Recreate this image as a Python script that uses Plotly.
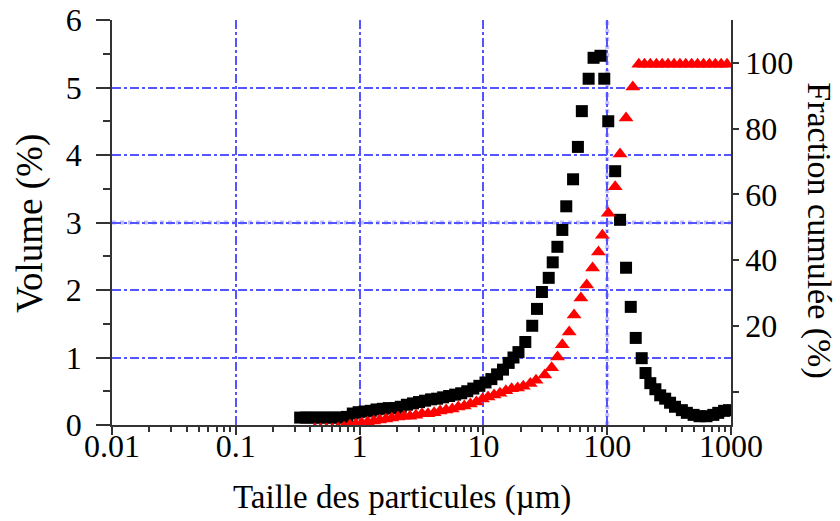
import plotly.graph_objects as go

# Particle size distribution: volume fraction per size class (left axis)
size_vol = [0.331, 0.369, 0.411, 0.458, 0.511, 0.570, 0.636, 0.708, 0.790, 0.881,
            0.982, 1.10, 1.23, 1.37, 1.54, 1.72, 1.93, 2.15, 2.41, 2.70,
            3.02, 3.38, 3.78, 4.23, 4.73, 5.29, 5.92, 6.62, 7.41, 8.29,
            9.28, 10.4, 11.6, 12.9, 14.4, 16.0, 17.5, 19.2, 21.8, 24.8,
            27.1, 29.7, 33.7, 36.3, 39.6, 43.4, 46.7, 53.0, 58.0, 62.4,
            70.8, 77.6, 88.2, 94.7, 102, 116, 127, 142, 155, 170,
            190, 204, 223, 245, 268, 294, 322, 353, 401, 440,
            499, 557, 634, 720, 789, 880, 964]
volume = [0.11, 0.11, 0.11, 0.11, 0.11, 0.11, 0.11, 0.11, 0.12, 0.17,
          0.19, 0.20, 0.21, 0.23, 0.24, 0.25, 0.25, 0.27, 0.30, 0.32,
          0.34, 0.36, 0.38, 0.39, 0.41, 0.43, 0.45, 0.47, 0.50, 0.54,
          0.58, 0.63, 0.68, 0.75, 0.82, 0.92, 1.00, 1.08, 1.23, 1.47,
          1.72, 1.97, 2.18, 2.41, 2.64, 2.89, 3.24, 3.64, 4.12, 4.65,
          5.13, 5.44, 5.47, 5.13, 4.50, 3.76, 3.04, 2.33, 1.75, 1.29,
          0.99, 0.77, 0.62, 0.53, 0.44, 0.39, 0.33, 0.27, 0.22, 0.18,
          0.15, 0.13, 0.13, 0.15, 0.18, 0.21, 0.22]

# Cumulative fraction (right axis)
size_cum = [0.435, 0.484, 0.540, 0.602, 0.671, 0.748, 0.834, 0.931, 1.04, 1.16,
            1.30, 1.45, 1.63, 1.82, 2.04, 2.28, 2.55, 2.85, 3.19, 3.57,
            4.00, 4.47, 5.00, 5.60, 6.26, 7.01, 7.84, 8.77, 9.82, 10.9,
            12.2, 13.6, 15.2, 16.9, 18.9, 21.0, 23.9, 26.6, 31.3, 35.6,
            39.7, 43.4, 49.3, 54.0, 61.3, 68.3, 76.2, 85.0, 91.4, 102,
            116, 127, 142, 161, 180, 200, 223, 250, 278, 310,
            347, 387, 431, 481, 537, 600, 669, 747, 833, 929]
cumul = [-11.4, -11.4, -11.4, -11.4, -11.1, -10.8, -10.2, -9.9, -9.6, -9.3,
         -9.0, -8.7, -8.4, -8.1, -7.8, -7.5, -7.5, -7.2, -6.8, -6.8,
         -6.5, -5.9, -5.6, -5.3, -4.7, -4.4, -3.8, -3.2, -2.3, -1.7,
         -1.1, -0.5, 0.2, 0.8, 1.1, 1.6, 2.4, 3.4, 5.0, 7.2,
         10.5, 14.2, 18.1, 23.3, 28.5, 32.4, 37.6, 42.5, 47.6, 54.3,
         62.3, 72.3, 83.3, 92.7, 99.6, 99.6, 99.6, 99.6, 99.6, 99.6,
         99.6, 99.6, 99.6, 99.6, 99.6, 99.6, 99.6, 99.6, 99.6, 99.6]

x_ticks = [0.01, 0.1, 1, 10, 100, 1000]
x_ticktext = ["0.01", "0.1", "1", "10", "100", "1000"]
y_ticks = [0, 1, 2, 3, 4, 5, 6]
y2_ticks = [0, 20, 40, 60, 80, 100]
y2_ticktext = ["", "20", "40", "60", "80", "100"]

FONT = "'Liberation Serif', 'DejaVu Serif', 'Times New Roman', Times, serif"
GRID = "#5555ff"
GRID_WIDE = "rgba(120,120,255,0.45)"
AXIS = "#333333"

fig = go.Figure()
fig.add_trace(go.Scatter(
    x=size_cum, y=cumul, yaxis="y2", mode="markers",
    marker=dict(symbol="triangle-up", size=13, color="#ff0000", line=dict(width=0)),
    showlegend=False,
))
fig.add_trace(go.Scatter(
    x=size_vol, y=volume, mode="markers",
    marker=dict(symbol="square", size=12, color="#000000", line=dict(width=0)),
    showlegend=False,
))

fig.update_layout(
    width=840, height=521,
    margin=dict(l=112, r=109, t=20, b=96),
    paper_bgcolor="white", plot_bgcolor="white",
    font=dict(family=FONT, size=32, color="black"),
    xaxis=dict(
        type="log", range=[-2, 3], automargin=False,
        tickvals=x_ticks, ticktext=x_ticktext,
        ticks="outside", ticklen=8, tickwidth=1.5, tickcolor=AXIS,
        ticklabelstandoff=-16,
        showline=True, linecolor=AXIS, linewidth=1.5,
        showgrid=True, gridcolor=GRID, gridwidth=1.5, griddash="dashdot",
        zeroline=False,
        minor=dict(ticks="outside", ticklen=5, tickcolor=AXIS, dtick="D1", showgrid=False),
        tickfont=dict(family=FONT, size=32),
    ),
    yaxis=dict(
        range=[0, 6], tickvals=y_ticks, automargin=False,
        ticks="outside", ticklen=14, tickwidth=1.5, tickcolor=AXIS,
        ticklabelstandoff=8,
        showline=True, linecolor=AXIS, linewidth=1.5,
        showgrid=True, gridcolor=GRID, gridwidth=1.5, griddash="dashdot",
        zeroline=False,
        minor=dict(ticks="outside", ticklen=7, tickcolor=AXIS, dtick=0.5, showgrid=False),
        tickfont=dict(family=FONT, size=32),
    ),
    yaxis2=dict(
        overlaying="y", side="right", range=[-10.2, 113.1], automargin=False,
        tickvals=y2_ticks, ticktext=y2_ticktext,
        ticks="outside", ticklen=6, tickwidth=1.5, tickcolor=AXIS,
        showline=True, linecolor=AXIS, linewidth=1.5,
        showgrid=False, zeroline=False,
        tickfont=dict(family=FONT, size=32),
    ),
)

# Heavier dotted guides at 3 % volume and 100 µm
fig.add_shape(type="line", xref="paper", yref="y", x0=0, x1=1, y0=3, y1=3,
              line=dict(color=GRID_WIDE, width=4, dash="dot"), layer="below")
fig.add_shape(type="line", xref="x", yref="paper", x0=100, x1=100, y0=0, y1=1,
              line=dict(color=GRID_WIDE, width=4, dash="dot"), layer="below")

# Axis titles
fig.add_annotation(text="Taille des particules (µm)", xref="paper", yref="paper",
                   x=0.4685, y=-0.18, showarrow=False, font=dict(family=FONT, size=33),
                   xanchor="center", yanchor="middle")
fig.add_annotation(text="Volume (%)", xref="paper", yref="paper",
                   x=-0.1325, y=0.499, showarrow=False, textangle=-90,
                   font=dict(family=FONT, size=37), xanchor="center", yanchor="middle")
fig.add_annotation(text="Fraction cumulée (%)", xref="paper", yref="paper",
                   x=1.142, y=0.481, showarrow=False, textangle=90,
                   font=dict(family=FONT, size=34), xanchor="center", yanchor="middle")

fig.write_html("out.html")
